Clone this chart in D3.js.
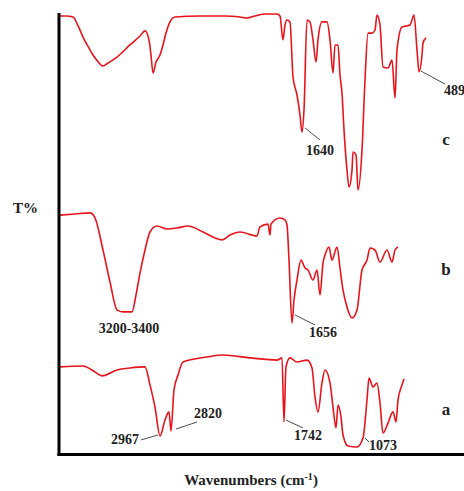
<!DOCTYPE html>
<html>
<head>
    <title>FTIR spectra</title>
    <script src="https://d3js.org/d3.v7.min.js"></script>
    <style>
        html, body {
            margin: 0;
            padding: 0;
            background: #fff;
            overflow: hidden;
        }
        .spectrum {
            fill: none;
            stroke: #e8141c;
            stroke-width: 1.6px;
            stroke-linejoin: round;
        }
        .leader {
            stroke: #222;
            stroke-width: 0.8px;
        }
        text {
            font-family: "Liberation Serif", "Times New Roman", serif;
            font-weight: bold;
            fill: #222;
        }
    </style>
</head>
<body>
<svg id="chart" width="464" height="491"></svg>
<script>
    // Datos (número de onda en cm-1, T% relativo de cada banda)
    const wnC = [4000, 3940, 3870, 3820, 3770, 3720, 3670, 3620, 3570, 3520, 3430, 3300, 3200, 3150, 3110, 3090, 3070, 3040, 3000, 2970, 2940, 2900, 2850,
        2600, 2350, 2200, 2130, 2050, 1950, 1830, 1800, 1770, 1750, 1730, 1700, 1670, 1630, 1600, 1580, 1560, 1530, 1500, 1470,
        1440, 1420, 1380, 1330, 1300, 1270, 1250, 1220, 1200, 1180, 1160, 1130, 1110, 1080, 1070, 1040, 1020, 980, 950, 920,
        880, 850, 830, 800, 770, 720, 680, 650, 630, 580, 500, 460, 430, 410, 380, 370, 340];
    const tC = [98.9, 98.9, 98.3, 93.5, 87.2, 82, 77.2, 73.5, 71.1, 72.8, 76.1, 82.8, 87.8, 90.6, 85.6, 77.2, 67.2, 73.3, 77.2, 82.8, 89.4, 95.6, 98.3,
        98.9, 98.9, 98.3, 97.8, 98.9, 100, 100, 98.9, 85.6, 93.9, 96.7, 95.6, 65, 55, 43.9, 34.4, 46.7, 96.7, 95.6, 85.6,
        73.3, 85.6, 95.6, 95.6, 85.6, 67.2, 82.8, 82.8, 66.1, 56.1, 35.6, 13.3, 3.9, 13.3, 23.3, 21.7, 2.2, 24.4, 63.3, 89.4,
        89.4, 91.1, 99.4, 93.9, 70.6, 70, 74.4, 53.3, 80, 92.8, 93.9, 99.4, 80, 67.8, 77.2, 83.9, 86.7];

    const wnB = [4000, 3850, 3700, 3650, 3570, 3500, 3430, 3370, 3280, 3240, 3200, 3150, 3100, 3030, 2930, 2830, 2720, 2570, 2450, 2380,
        2300, 2200, 2030, 2000, 1920, 1900, 1890, 1800, 1750, 1730, 1710, 1680, 1660, 1630, 1590, 1550, 1520, 1470, 1430, 1400,
        1370, 1350, 1310, 1280, 1230, 1200, 1170, 1130, 1080, 1030, 980, 930, 900, 850, 800, 730, 680, 650, 620];
    const tB = [94.4, 95, 95.6, 92.8, 75, 57.2, 41.7, 40.6, 40.6, 50, 62.2, 75, 85, 88.3, 86.7, 87.2, 88.3, 85, 81.7, 80.6,
        83.3, 85, 82.8, 87.8, 89.4, 83.3, 89.4, 92.8, 91.7, 88.9, 69.4, 34.4, 47.2, 58.3, 69.4, 65, 63.9, 58.3, 63.9, 50,
        67.8, 72.2, 76.7, 69.4, 76.7, 65, 52.8, 43.3, 37.2, 41.7, 63.9, 69.4, 76.1, 75, 68.3, 75, 68.3, 75, 76.7];

    const wnA = [4000, 3770, 3650, 3580, 3430, 3300, 3150, 3100, 3050, 3000, 2950, 2910, 2890, 2860, 2820, 2770, 2530, 2370, 2100, 1830,
        1780, 1760, 1740, 1700, 1630, 1530, 1480, 1450, 1420, 1380, 1350, 1300, 1270, 1240, 1220, 1190, 1170, 1120, 1030, 970,
        930, 910, 870, 830, 800, 770, 720, 670, 640, 620, 580, 560];
    const tA = [90.6, 91.1, 87.8, 85.6, 88.9, 90, 90.6, 80.6, 68.3, 52.2, 61.1, 65.6, 55, 77.8, 86.1, 93.3, 96.1, 97.2, 95.6, 94.4,
        95.6, 60, 90.6, 95.6, 93.3, 94.4, 90, 73.9, 65.6, 81.7, 88.9, 81.7, 68.3, 56.7, 69.4, 62.8, 52.8, 46.7, 46.1, 51.1,
        72.2, 84.4, 79.4, 81.7, 70.6, 53.9, 59.4, 65.6, 60, 72.2, 80.6, 83.9];

    const seriesNames = ["c", "b", "a"];
    const seriesWn = [wnC, wnB, wnA];
    const seriesT = [tC, tB, tA];

    // Anotaciones: serie, texto, punto de anclaje (cm-1, T%)
    const annSeries = ["c", "c", "b", "b", "a", "a", "a", "a"];
    const annText = ["1640", "489", "3200-3400", "1656", "2967", "2820", "1742", "1073"];
    const annWn = [1550, 390, 3310, 1650, 3020, 2840, 1740, 950];
    const annT = [36.7, 68.3, 28.9, 38.9, 52.8, 56.1, 61.1, 51.1];

    // Desplazamientos de las etiquetas (px): fin de la línea guía y texto
    const annLayout = [
        { lx: 15, ly: 12, tx: 15, ty: 27, anchor: "middle" },
        { lx: 24, ly: 13, tx: 23, ty: 24, anchor: "start" },
        { lx: 0, ly: 0, tx: 0, ty: 0, anchor: "middle", noLine: true },
        { lx: 20, ly: 10, tx: 28, ty: 22, anchor: "middle" },
        { lx: -17, ly: 5, tx: -19, ty: 9, anchor: "end" },
        { lx: 21, ly: -7, tx: 32, ty: -11, anchor: "middle" },
        { lx: 17, ly: 8, tx: 22, ty: 20, anchor: "middle" },
        { lx: 4, ly: 4, tx: 18, ty: 12, anchor: "middle" }
    ];

    const svg = d3.select("#chart");

    // Escalas
    const x = d3.scaleLinear().domain([4000, 300]).range([60, 430]);
    const bandTop = { c: 14, b: 205, a: 350 };
    const y = {};
    seriesNames.forEach(s => {
        y[s] = d3.scaleLinear().domain([0, 100]).range([bandTop[s] + 180, bandTop[s]]);
    });

    // Espectros
    seriesNames.forEach((s, i) => {
        const pts = seriesWn[i].map((w, j) => [w, seriesT[i][j]]);
        const line = d3.line()
            .curve(d3.curveMonotoneX)
            .x(d => x(d[0]))
            .y(d => y[s](d[1]));
        svg.append("path")
            .attr("class", "spectrum")
            .attr("d", line(pts));
    });

    // Marco (ejes sin marcas)
    svg.append("line")
        .attr("x1", 59).attr("x2", 59)
        .attr("y1", 13).attr("y2", 456)
        .attr("stroke", "#000").attr("stroke-width", 3);
    svg.append("line")
        .attr("x1", 57.5).attr("x2", 464)
        .attr("y1", 454.5).attr("y2", 454.5)
        .attr("stroke", "#000").attr("stroke-width", 3);

    // Anotaciones
    annText.forEach((t, i) => {
        const s = annSeries[i];
        const px = x(annWn[i]);
        const py = y[s](annT[i]);
        const L = annLayout[i];
        if (!L.noLine) {
            svg.append("line")
                .attr("class", "leader")
                .attr("x1", px).attr("y1", py)
                .attr("x2", px + L.lx).attr("y2", py + L.ly);
        }
        svg.append("text")
            .attr("x", px + L.tx)
            .attr("y", py + L.ty)
            .attr("text-anchor", L.anchor)
            .style("font-size", "14px")
            .text(t);
    });

    // Letras de las series
    const letterY = { c: 145, b: 275, a: 415 };
    seriesNames.forEach(s => {
        svg.append("text")
            .attr("x", 446)
            .attr("y", letterY[s])
            .attr("text-anchor", "middle")
            .style("font-size", "17px")
            .text(s);
    });

    // Títulos de ejes
    svg.append("text")
        .attr("x", 13)
        .attr("y", 213)
        .style("font-size", "15px")
        .text("T%");

    const xt = svg.append("text")
        .attr("x", 251)
        .attr("y", 485)
        .attr("text-anchor", "middle")
        .style("font-size", "15px");
    xt.append("tspan").text("Wavenumbers (cm");
    xt.append("tspan").attr("dy", -5).style("font-size", "10px").text("-1");
    xt.append("tspan").attr("dy", 5).text(")");
</script>
</body>
</html>
